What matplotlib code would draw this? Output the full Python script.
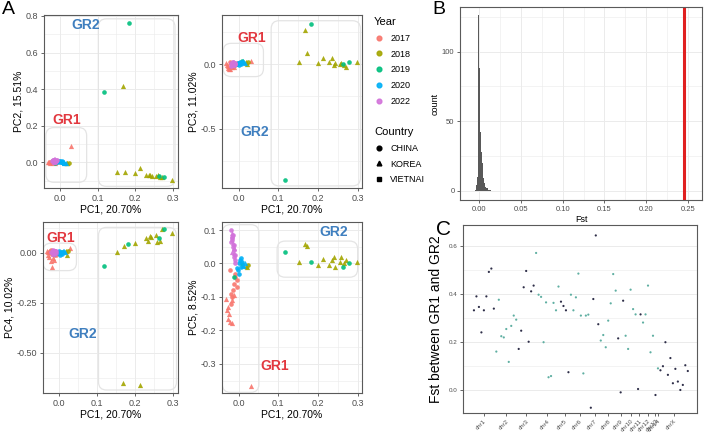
import matplotlib.pyplot as plt
import numpy as np
from matplotlib.lines import Line2D
from matplotlib.patches import FancyBboxPatch
from matplotlib.ticker import FormatStrFormatter, MultipleLocator

plt.rcParams["font.family"] = ["Liberation Sans", "DejaVu Sans"]
plt.rcParams["axes.unicode_minus"] = False

# ---- Panel A: PCA samples ----
year_levels = ["2017", "2018", "2019", "2020", "2022"]
year_colors = ["#F8766D", "#A3A500", "#00BF7D", "#00B0F6", "#D272DA"]
country_levels = ["CHINA", "KOREA", "VIETNAI"]
country_markers = ["o", "^", "s"]

sample_year = (["2017"] * 20 + ["2022"] * 18 + ["2020"] * 11
               + ["2018"] * 3 + ["2019"] * 2 + ["2019"] * 4 + ["2018"] * 14)
sample_country = (["KOREA"] * 6 + ["CHINA"] * 8 + ["KOREA", "CHINA", "KOREA", "KOREA", "CHINA", "KOREA"]
                  + ["CHINA", "KOREA", "CHINA", "CHINA", "KOREA", "CHINA", "CHINA", "KOREA", "CHINA",
                     "CHINA", "CHINA", "CHINA", "KOREA", "CHINA", "CHINA", "CHINA", "CHINA", "KOREA"]
                  + ["CHINA", "CHINA", "CHINA", "CHINA", "KOREA", "CHINA", "CHINA", "KOREA", "CHINA",
                     "KOREA", "CHINA"]
                  + ["KOREA", "CHINA", "KOREA"] + ["CHINA"] * 2 + ["CHINA"] * 4 + ["KOREA"] * 14)

pc1 = [-0.030, -0.028, -0.025, -0.022, -0.018, -0.026, -0.020, -0.018, -0.015, -0.012,
       -0.020, -0.010, -0.008, -0.005, -0.016, -0.003, -0.012, 0.030, -0.022, -0.032,
       -0.020, -0.018, -0.017, -0.016, -0.015, -0.014, -0.013, -0.012, -0.011, -0.010,
       -0.015, -0.019, -0.013, -0.009, -0.017, -0.012, -0.008, -0.016,
       0.000, 0.003, 0.005, 0.008, 0.010, -0.002, 0.002, 0.012, 0.006, 0.015, -0.004,
       0.018, 0.023, 0.020, -0.012, 0.008,
       0.182, 0.118, 0.262, 0.277,
       0.168, 0.212, 0.152, 0.172, 0.200, 0.228, 0.235, 0.240, 0.243, 0.256, 0.259, 0.265, 0.270, 0.298]
pc2 = [0.000, 0.003, -0.002, 0.005, 0.001, 0.004, 0.006, 0.002, 0.008, 0.000,
       -0.004, 0.004, 0.010, 0.005, 0.012, 0.000, -0.002, 0.090, 0.003, 0.002,
       0.010, 0.015, 0.012, 0.008, 0.018, 0.010, 0.005, 0.012, 0.008, 0.015,
       0.004, 0.014, 0.016, 0.010, 0.006, 0.002, 0.013, 0.000,
       0.005, 0.000, 0.010, -0.005, 0.002, 0.008, 0.003, -0.005, 0.000, -0.003, 0.002,
       -0.003, -0.005, -0.002, -0.002, -0.004,
       0.762, 0.386, -0.075, -0.080,
       0.415, -0.030, -0.050, -0.050, -0.060, -0.070, -0.070, -0.070, -0.072, -0.075, -0.070,
       -0.078, -0.080, -0.095]
pc3 = [-0.010, -0.030, -0.035, -0.040, -0.020, -0.015, 0.000, -0.005, 0.005, 0.010,
       0.008, -0.008, 0.002, 0.004, -0.012, -0.002, -0.025, 0.020, 0.012, 0.005,
       0.005, 0.010, 0.000, -0.005, 0.008, 0.012, -0.010, 0.004, 0.002, -0.003,
       0.015, -0.012, 0.006, 0.010, 0.002, -0.006, 0.000, -0.008,
       0.010, 0.015, 0.000, 0.012, 0.020, 0.005, -0.005, 0.018, 0.008, 0.010, -0.002,
       0.012, 0.015, 0.000, -0.005, 0.020,
       0.311, -0.893, 0.000, 0.013,
       0.265, 0.043, 0.018, 0.082, 0.005, 0.018, 0.043, -0.008, 0.010, 0.000, 0.005,
       -0.010, -0.020, 0.013]
pc4 = [0.005, -0.010, -0.020, -0.040, -0.070, 0.010, 0.000, -0.005, 0.005, -0.010,
       0.008, 0.012, -0.008, 0.002, -0.025, 0.004, -0.035, 0.025, 0.015, 0.010,
       0.005, 0.010, 0.000, 0.008, -0.005, 0.002, 0.006, -0.002, 0.010, 0.004,
       0.012, -0.002, 0.006, 0.000, 0.014, 0.008, 0.012, 0.003,
       0.008, 0.000, 0.005, -0.005, 0.010, 0.000, -0.008, 0.012, 0.000, 0.005, 0.004,
       0.008, 0.012, -0.010, -0.005, 0.006,
       0.046, -0.066, 0.076, 0.118,
       -0.649, -0.662, 0.005, 0.033, 0.050, 0.075, 0.060, 0.085, 0.078, 0.088, 0.055,
       0.060, 0.118, 0.101]
pc5 = [-0.140, -0.165, -0.150, -0.175, -0.178, -0.130, -0.120, -0.100, -0.080, -0.060,
       -0.090, -0.040, -0.030, -0.050, -0.110, -0.070, -0.095, -0.365, -0.020, -0.105,
       0.100, 0.090, 0.080, 0.070, 0.060, 0.050, 0.040, 0.030, 0.020, 0.010,
       0.085, 0.065, 0.045, 0.025, 0.075, 0.055, 0.000, 0.035,
       0.000, 0.010, -0.010, 0.005, -0.005, -0.020, -0.030, -0.008, 0.015, 0.000, -0.012,
       -0.008, -0.005, -0.010, -0.040, -0.002,
       0.003, 0.035, -0.010, 0.000,
       0.058, 0.012, 0.003, 0.052, -0.005, -0.005, 0.010, 0.020, -0.010, 0.005, 0.018,
       0.000, 0.010, 0.005]

# ---- Panel B: permutation Fst histogram ----
hist_bin_left = [-0.0045, -0.0038, -0.0031, -0.0024, -0.0017, -0.0010, -0.0003, 0.0004, 0.0011,
                 0.0018, 0.0025, 0.0032, 0.0039, 0.0046, 0.0053, 0.0060, 0.0067, 0.0074, 0.0081,
                 0.0088, 0.0095, 0.0102, 0.0109, 0.0116, 0.0123, 0.0130, 0.0137, 0.0144, 0.0151]
hist_counts = [1, 2, 4, 10, 45, 126, 110, 88, 66, 42, 28, 18, 20, 14, 9, 6, 5, 3, 3, 2, 2, 1, 1,
               1, 1, 0, 1, 0, 1]
hist_bin_width = 0.0007
observed_fst = 0.245

# ---- Panel C: Fst per locus ----
chrom_labels = ["chr1", "chr2", "chr3", "chr4", "chr5", "chr6", "chr7", "chr8", "chr9", "chr10",
                "chr11", "chr12", "chr13", "chr14", "chrX"]
chrom_sizes = [9, 9, 7, 10, 4, 8, 4, 7, 3, 5, 2, 5, 1, 1, 12]
locus_fst = [0.332, 0.390, 0.346, 0.240, 0.332, 0.390, 0.492, 0.506, 0.339,
             0.160, 0.376, 0.224, 0.219, 0.254, 0.117, 0.267, 0.310, 0.293,
             0.171, 0.247, 0.428, 0.496, 0.201, 0.411, 0.435,
             0.571, 0.397, 0.388, 0.199, 0.365, 0.053, 0.058, 0.363, 0.332, 0.431,
             0.368, 0.350, 0.332, 0.074,
             0.397, 0.332, 0.386, 0.485, 0.310, 0.069, 0.310, 0.314,
             -0.074, 0.379, 0.644, 0.274,
             0.206, 0.229, 0.178, 0.289, 0.361, 0.483, 0.414,
             0.215, -0.010, 0.372,
             0.226, 0.171, 0.418, 0.337, 0.315,
             0.004, 0.315,
             0.281, 0.315, 0.435, 0.157, 0.226,
             -0.021,
             0.090,
             0.082, 0.099, 0.199, 0.063, 0.133, 0.028, 0.088, 0.035, 0.000, 0.021, 0.103, 0.079]

GR1_COLOR = "#E2383F"
GR2_COLOR = "#3F7FBF"
GRID = "#EBEBEB"
W, H = 709, 438

fig = plt.figure(figsize=(7.09, 4.38), dpi=100)


def add_ax(left, top, right, bottom):
    return fig.add_axes([left / W, 1 - bottom / H, (right - left) / W, (bottom - top) / H])


def style_ax(ax, tick_size=6.5):
    for s in ax.spines.values():
        s.set_color("#5a5a5a")
        s.set_linewidth(0.8)
    ax.tick_params(labelsize=tick_size, colors="#4d4d4d", length=2.5, width=0.6, pad=1.5)
    ax.tick_params(which="minor", length=0)
    ax.grid(True, which="major", color=GRID, lw=0.7)
    ax.grid(True, which="minor", color=GRID, lw=0.4)
    ax.set_axisbelow(True)


def gr_box(ax, x0, x1, y0, y1):
    pos = ax.get_position()
    w_px, h_px = pos.width * W, pos.height * H
    xr = np.diff(ax.get_xlim())[0]
    yr = np.diff(ax.get_ylim())[0]
    aspect = (yr / h_px) / (xr / w_px)
    r = 8 * xr / w_px
    box = FancyBboxPatch((x0, y0), x1 - x0, y1 - y0,
                         boxstyle=f"round,pad=0,rounding_size={r}",
                         mutation_aspect=aspect, fc="none", ec="#E4E4E4", lw=0.9, zorder=1)
    ax.add_patch(box)


sample_year = np.array(sample_year)
sample_country = np.array(sample_country)
pcs = {"PC1": np.array(pc1), "PC2": np.array(pc2), "PC3": np.array(pc3),
       "PC4": np.array(pc4), "PC5": np.array(pc5)}


def pca_panel(ax, pc, ylabel, xlim, ylim):
    for yr, col in zip(year_levels, year_colors):
        for ct, mk in zip(country_levels, country_markers):
            m = (sample_year == yr) & (sample_country == ct)
            if m.any():
                ax.scatter(pcs["PC1"][m], pcs[pc][m], s=14 if mk == "^" else 11, marker=mk,
                           color=col, lw=0, alpha=0.9, zorder=3)
    ax.set_xlim(*xlim)
    ax.set_ylim(*ylim)
    ax.set_xticks([0.0, 0.1, 0.2, 0.3])
    ax.xaxis.set_minor_locator(MultipleLocator(0.05))
    ax.xaxis.set_major_formatter(FormatStrFormatter("%.1f"))
    ax.set_xlabel("PC1, 20.70%", fontsize=7.5, labelpad=1.5)
    ax.set_ylabel(ylabel, fontsize=7.5, labelpad=2)
    style_ax(ax)


# A1: PC2
ax1 = add_ax(44, 15, 178, 188)
pca_panel(ax1, "PC2", "PC2, 15.51%", (-0.042, 0.313), (-0.14, 0.805))
ax1.yaxis.set_major_locator(MultipleLocator(0.2))
ax1.yaxis.set_minor_locator(MultipleLocator(0.1))
ax1.yaxis.set_major_formatter(FormatStrFormatter("%.1f"))
gr_box(ax1, -0.037, 0.071, -0.109, 0.19)
gr_box(ax1, 0.102, 0.305, -0.131, 0.784)
ax1.text(0.018, 0.234, "GR1", color=GR1_COLOR, fontsize=10, fontweight="bold", ha="center", va="center")
ax1.text(0.068, 0.75, "GR2", color=GR2_COLOR, fontsize=10, fontweight="bold", ha="center", va="center")

# A2: PC3
ax2 = add_ax(222, 15, 362, 188)
pca_panel(ax2, "PC3", "PC3, 11.02%", (-0.042, 0.311), (-0.954, 0.377))
ax2.yaxis.set_major_locator(MultipleLocator(0.5))
ax2.yaxis.set_minor_locator(MultipleLocator(0.25))
ax2.yaxis.set_major_formatter(FormatStrFormatter("%.1f"))
gr_box(ax2, -0.039, 0.0625, -0.097, 0.159)
gr_box(ax2, 0.082, 0.307, -0.938, 0.333)
ax2.text(0.032, 0.2, "GR1", color=GR1_COLOR, fontsize=10, fontweight="bold", ha="center", va="center")
ax2.text(0.04, -0.52, "GR2", color=GR2_COLOR, fontsize=10, fontweight="bold", ha="center", va="center")

# A3: PC4
ax3 = add_ax(43, 222, 178, 393)
pca_panel(ax3, "PC4", "PC4, 10.02%", (-0.042, 0.313), (-0.70, 0.155))
ax3.yaxis.set_major_locator(MultipleLocator(0.25))
ax3.yaxis.set_minor_locator(MultipleLocator(0.125))
ax3.yaxis.set_major_formatter(FormatStrFormatter("%.2f"))
gr_box(ax3, -0.042, 0.046, -0.088, 0.049)
gr_box(ax3, 0.104, 0.309, -0.685, 0.128)
ax3.text(0.005, 0.073, "GR1", color=GR1_COLOR, fontsize=10, fontweight="bold", ha="center", va="center")
ax3.text(0.062, -0.405, "GR2", color=GR2_COLOR, fontsize=10, fontweight="bold", ha="center", va="center")

# A4: PC5
ax4 = add_ax(222, 222, 362, 393)
pca_panel(ax4, "PC5", "PC5, 8.52%", (-0.042, 0.311), (-0.387, 0.124))
ax4.yaxis.set_major_locator(MultipleLocator(0.1))
ax4.yaxis.set_minor_locator(MultipleLocator(0.05))
ax4.yaxis.set_major_formatter(FormatStrFormatter("%.1f"))
gr_box(ax4, -0.041, 0.051, -0.385, 0.116)
gr_box(ax4, 0.097, 0.30, -0.041, 0.067)
ax4.text(0.09, -0.307, "GR1", color=GR1_COLOR, fontsize=10, fontweight="bold", ha="center", va="center")
ax4.text(0.24, 0.093, "GR2", color=GR2_COLOR, fontsize=10, fontweight="bold", ha="center", va="center")

# Legends
year_handles = [Line2D([], [], ls="", marker="o", ms=3.4, color=c, alpha=0.9, label=y)
                for y, c in zip(year_levels, year_colors)]
country_handles = [Line2D([], [], ls="", marker=m, ms=3.4, color="black", label=c)
                   for c, m in zip(country_levels, country_markers)]
leg_kw = dict(frameon=False, loc="upper left", fontsize=6.5, title_fontsize=8, alignment="left",
              handlelength=1.0, handletextpad=0.8, labelspacing=0.75, borderaxespad=0, borderpad=0)
fig.legend(handles=year_handles, title="Year", bbox_to_anchor=(374 / W, 1 - 17 / H), **leg_kw)
fig.legend(handles=country_handles, title="Country", bbox_to_anchor=(374 / W, 1 - 127 / H), **leg_kw)

# B: histogram
axb = add_ax(460, 7, 702, 200)
axb.bar(hist_bin_left, hist_counts, width=hist_bin_width, align="edge", color="#595959", lw=0)
axb.axvline(observed_fst, color="#E02020", lw=2.2)
axb.set_xlim(-0.0227, 0.2667)
axb.set_ylim(-6.5, 132)
axb.set_xticks([0.0, 0.05, 0.10, 0.15, 0.20, 0.25])
axb.xaxis.set_minor_locator(MultipleLocator(0.025))
axb.xaxis.set_major_formatter(FormatStrFormatter("%.2f"))
axb.set_yticks([0, 50, 100])
axb.yaxis.set_minor_locator(MultipleLocator(25))
axb.set_xlabel("Fst", fontsize=6.5, labelpad=1.5)
axb.set_ylabel("count", fontsize=6.5, labelpad=2)
style_ax(axb, tick_size=5.5)

# C: per-locus Fst
axc = add_ax(463, 225, 697, 413)
chrom_idx = np.repeat(np.arange(len(chrom_sizes)), chrom_sizes)
locus_x = np.arange(len(locus_fst))
locus_colors = np.where(chrom_idx % 2 == 0, "#2E2E48", "#5FAFA2")
axc.scatter(locus_x, locus_fst, s=2.5, c=locus_colors, lw=0, zorder=3)
centers = [locus_x[chrom_idx == i].mean() for i in range(len(chrom_sizes))]
axc.set_xticks(centers)
axc.set_xticklabels(chrom_labels, rotation=45, ha="right", va="top", rotation_mode="anchor")
axc.set_xlim(-4.4, 89.7)
axc.set_ylim(-0.096, 0.6875)
axc.yaxis.set_major_locator(MultipleLocator(0.2))
axc.yaxis.set_minor_locator(MultipleLocator(0.1))
axc.yaxis.set_major_formatter(FormatStrFormatter("%.1f"))
axc.set_ylabel("Fst between GR1 and GR2", fontsize=10, labelpad=4)
style_ax(axc, tick_size=4.5)
axc.grid(False, axis="x", which="both")

fig.text(2 / W, 1 - 1 / H, "A", fontsize=14, va="top", ha="left")
fig.text(432 / W, 1 - 1 / H, "B", fontsize=14, va="top", ha="left")
fig.text(436 / W, 1 - 220 / H, "C", fontsize=15, va="top", ha="left")

fig.savefig("out.png", dpi=100)
